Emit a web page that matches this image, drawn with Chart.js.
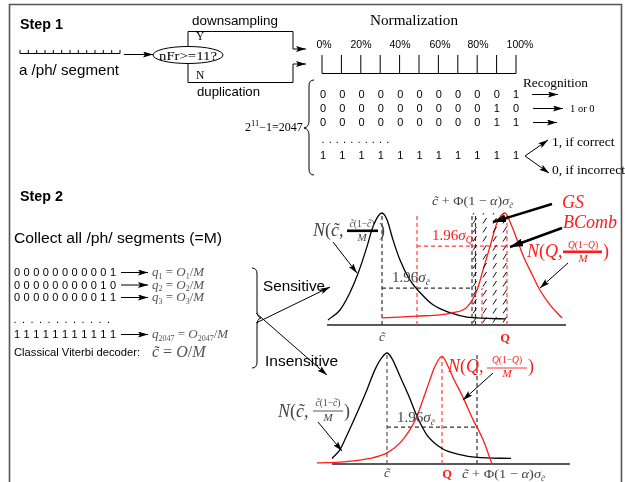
<!DOCTYPE html>
<html>
<head>
<meta charset="utf-8">
<script src="https://cdn.jsdelivr.net/npm/chart.js@4.4.0/dist/chart.umd.min.js"></script>
<style>
html, body { margin: 0; padding: 0; background: #fff; }
#wrap { position: relative; width: 625px; height: 482px; overflow: hidden; }
#plot, #art { position: absolute; left: 0; top: 0; }
.sans { font-family: "Liberation Sans", Arial, sans-serif; }
.serif { font-family: "Liberation Serif", "Times New Roman", serif; }
.m { font-family: "Liberation Serif", "Times New Roman", serif; font-style: italic; }
.up { font-style: normal; }
</style>
</head>
<body>
<div id="wrap">
<canvas id="plot" width="625" height="482"></canvas>
<svg id="art" width="625" height="482" xmlns="http://www.w3.org/2000/svg">
<defs>
  <marker id="ah" viewBox="0 0 10 6" refX="10" refY="3" markerWidth="10" markerHeight="6" markerUnits="userSpaceOnUse" orient="auto"><path d="M0,0 L10,3 L0,6 L2,3 z" fill="#000"/></marker>
  <marker id="ahb" viewBox="0 0 13 8" refX="13" refY="4" markerWidth="13" markerHeight="8" markerUnits="userSpaceOnUse" orient="auto"><path d="M0,0 L13,4 L0,8 z" fill="#000"/></marker>
</defs>
<path d="M9.5,482 V4.5 H621.5 V482" fill="none" stroke="#555" stroke-width="1.6"/>

<!-- step 1 -->
<g fill="none" stroke="#000" stroke-width="1">
  <path id="ruler" d=""/>
  <line x1="124" y1="54.5" x2="153" y2="54.5" marker-end="url(#ah)"/>
  <ellipse cx="188" cy="55" rx="35" ry="8.5"/>
  <path d="M188,46.5 V31.5 H293 V49 H306" marker-end="url(#ah)"/>
  <path d="M188,63.5 V82.5 H293 V64 H306" marker-end="url(#ah)"/>
  <path id="bins" d=""/>
  <path d="M314,80 Q309,80 309,86 V121 Q309,127 304,128 Q309,129 309,135 V169 Q309,175 314,175"/>
  <line x1="532" y1="94.5" x2="558" y2="94.5" marker-end="url(#ah)"/>
  <line x1="533" y1="108.5" x2="563" y2="108.5" marker-end="url(#ah)"/>
  <line x1="533" y1="122.5" x2="557" y2="122.5" marker-end="url(#ah)"/>
  <line x1="525" y1="156" x2="548" y2="140" marker-end="url(#ah)"/>
  <line x1="525" y1="156" x2="549" y2="173" marker-end="url(#ah)"/>
</g>
<text class="sans" x="20" y="29" font-size="14.3" font-weight="bold">Step 1</text>
<text class="sans" x="19" y="75" font-size="15" textLength="100" lengthAdjust="spacingAndGlyphs">a /ph/ segment</text>
<text class="sans" x="192" y="25" font-size="13.5" textLength="86" lengthAdjust="spacingAndGlyphs">downsampling</text>
<text class="sans" x="197" y="96" font-size="13.3" textLength="63" lengthAdjust="spacingAndGlyphs">duplication</text>
<text class="serif" x="188" y="59.5" font-size="13" text-anchor="middle" textLength="58" lengthAdjust="spacingAndGlyphs">nFr&gt;=11?</text>
<text class="serif" x="196" y="40" font-size="11.5">Y</text>
<text class="serif" x="196" y="79" font-size="11.5">N</text>
<text class="serif" x="370" y="25" font-size="15" textLength="88" lengthAdjust="spacingAndGlyphs">Normalization</text>
<g id="pct" class="sans" font-size="10.5" text-anchor="middle"></g>
<g id="bits1" class="sans" font-size="11" text-anchor="middle"></g>
<text class="serif" x="523" y="87" font-size="13.5" textLength="65" lengthAdjust="spacingAndGlyphs">Recognition</text>
<text class="serif" x="570" y="111.5" font-size="10.5">1 or 0</text>
<text class="serif" x="552" y="146" font-size="13.5">1, if correct</text>
<text class="serif" x="552" y="173.5" font-size="13.5">0, if incorrect</text>
<text class="serif" x="245" y="131" font-size="12">2<tspan font-size="8.5" dy="-5">11</tspan><tspan dy="5">−1=2047</tspan></text>

<!-- step 2 -->
<text class="sans" x="20" y="201" font-size="14.3" font-weight="bold">Step 2</text>
<text class="sans" x="14" y="243" font-size="15.5" textLength="208" lengthAdjust="spacingAndGlyphs">Collect all /ph/ segments (=M)</text>
<g id="bits2" class="sans" font-size="11" text-anchor="middle"></g>
<g fill="none" stroke="#000" stroke-width="1">
  <line x1="121" y1="272.5" x2="148" y2="272.5" marker-end="url(#ah)"/>
  <line x1="121" y1="285" x2="148" y2="285" marker-end="url(#ah)"/>
  <line x1="121" y1="297.5" x2="148" y2="297.5" marker-end="url(#ah)"/>
  <line x1="121" y1="334.5" x2="148" y2="334.5" marker-end="url(#ah)"/>
  <path d="M252,268 Q257,268 257,274 V311 Q257,317 261,318 Q257,319 257,325 V362 Q257,368 252,368"/>
  <line x1="256" y1="323" x2="330" y2="287" marker-end="url(#ah)"/>
  <line x1="256" y1="313" x2="327" y2="375" marker-end="url(#ah)"/>
</g>
<g class="m" font-size="13" fill="#555">
  <text x="152" y="276">q<tspan font-size="8" dy="2.5" class="up">1</tspan><tspan dy="-2.5" class="up"> = </tspan>O<tspan font-size="8" dy="2.5" class="up">1</tspan><tspan dy="-2.5" class="up">/</tspan>M</text>
  <text x="152" y="288.5">q<tspan font-size="8" dy="2.5" class="up">2</tspan><tspan dy="-2.5" class="up"> = </tspan>O<tspan font-size="8" dy="2.5" class="up">2</tspan><tspan dy="-2.5" class="up">/</tspan>M</text>
  <text x="152" y="301">q<tspan font-size="8" dy="2.5" class="up">3</tspan><tspan dy="-2.5" class="up"> = </tspan>O<tspan font-size="8" dy="2.5" class="up">3</tspan><tspan dy="-2.5" class="up">/</tspan>M</text>
  <text x="152" y="338">q<tspan font-size="8" dy="2.5" class="up">2047</tspan><tspan dy="-2.5" class="up"> = </tspan>O<tspan font-size="8" dy="2.5" class="up">2047</tspan><tspan dy="-2.5" class="up">/</tspan>M</text>
  <text x="152" y="357" font-size="16">c̃<tspan class="up"> = </tspan>O<tspan class="up">/</tspan>M</text>
</g>
<text class="sans" x="14" y="356" font-size="11.2">Classical Viterbi decoder:</text>
<text class="sans" x="263" y="291" font-size="15.3">Sensitive</text>
<text class="sans" x="265" y="366" font-size="15.5">Insensitive</text>

<!-- sensitive panel labels -->
<g fill="#444" class="m">
  <text x="432" y="205" font-size="13" textLength="81" lengthAdjust="spacingAndGlyphs">c̃<tspan class="up"> + Φ(1 − </tspan>α<tspan class="up">)</tspan>σ<tspan font-size="8" dy="2.5">c̃</tspan></text>
  <text x="313" y="235.5" font-size="18">N<tspan class="up">(</tspan>c̃,</text>
  <text x="362" y="227" font-size="9.5" text-anchor="middle">c̃<tspan class="up">(1−</tspan>c̃<tspan class="up">)</tspan></text>
  <text x="362" y="241" font-size="11" text-anchor="middle">M</text>
  <text x="379" y="235.5" font-size="18" class="up">)</text>
  <text x="392" y="282" font-size="15" class="up">1.96<tspan class="m">σ</tspan><tspan font-size="9" dy="3" class="m">c̃</tspan></text>
  <text x="382" y="341" font-size="13" text-anchor="middle">c̃</text>
</g>
<rect x="347" y="229.5" width="31" height="2.6" fill="#000"/>
<g fill="#ff1a1a" class="m">
  <text x="432" y="240" font-size="15" class="up">1.96<tspan class="m">σ</tspan><tspan font-size="10" dy="3" class="m">Q</tspan></text>
  <text x="562" y="208" font-size="18">GS</text>
  <text x="563" y="228" font-size="18">BComb</text>
  <text x="527" y="257" font-size="18">N<tspan class="up">(</tspan>Q<tspan class="up">,</tspan></text>
  <text x="583" y="247.5" font-size="9.5" text-anchor="middle">Q<tspan class="up">(1−</tspan>Q<tspan class="up">)</tspan></text>
  <text x="583" y="262" font-size="11" text-anchor="middle">M</text>
  <text x="603" y="257" font-size="18" class="up">)</text>
  <text x="505" y="342" font-size="12.5" font-weight="bold" class="serif up" text-anchor="middle">Q</text>
</g>
<rect x="563" y="250.5" width="39" height="2.6" fill="#ff1a1a"/>
<g fill="none" stroke="#000">
  <line x1="552" y1="204" x2="493" y2="222" stroke-width="2.4" marker-end="url(#ahb)"/>
  <line x1="562" y1="228" x2="510" y2="247" stroke-width="2.4" marker-end="url(#ahb)"/>
  <line x1="568" y1="263" x2="540" y2="288" stroke-width="1" marker-end="url(#ah)"/>
  <line x1="333" y1="242" x2="357" y2="273" stroke-width="1" marker-end="url(#ah)"/>
</g>

<!-- insensitive panel labels -->
<g fill="#444" class="m">
  <text x="278" y="417" font-size="18">N<tspan class="up">(</tspan>c̃,</text>
  <text x="328" y="406" font-size="9.5" text-anchor="middle">c̃<tspan class="up">(1−</tspan>c̃<tspan class="up">)</tspan></text>
  <text x="328" y="421" font-size="11" text-anchor="middle">M</text>
  <text x="344" y="417" font-size="18" class="up">)</text>
  <text x="397" y="422" font-size="15" class="up">1.96<tspan class="m">σ</tspan><tspan font-size="9" dy="3" class="m">c̃</tspan></text>
  <text x="387" y="477" font-size="13" text-anchor="middle">c̃</text>
  <text x="462" y="478" font-size="13" textLength="83" lengthAdjust="spacingAndGlyphs">c̃<tspan class="up"> + Φ(1 − </tspan>α<tspan class="up">)</tspan>σ<tspan font-size="8" dy="2.5">c̃</tspan></text>
</g>
<line x1="313" y1="411" x2="343" y2="411" stroke="#444" stroke-width="0.9"/>
<g fill="#ff1a1a" class="m">
  <text x="448" y="372" font-size="18">N<tspan class="up">(</tspan>Q<tspan class="up">,</tspan></text>
  <text x="507" y="363" font-size="9.5" text-anchor="middle">Q<tspan class="up">(1−</tspan>Q<tspan class="up">)</tspan></text>
  <text x="507" y="377" font-size="11" text-anchor="middle">M</text>
  <text x="528" y="372" font-size="18" class="up">)</text>
  <text x="447" y="478" font-size="12.5" font-weight="bold" class="serif up" text-anchor="middle">Q</text>
</g>
<line x1="487" y1="368" x2="527" y2="368" stroke="#ff1a1a" stroke-width="0.9"/>
<g fill="none" stroke="#000" stroke-width="1">
  <line x1="493" y1="373" x2="463" y2="400" marker-end="url(#ah)"/>
  <line x1="318" y1="422" x2="342" y2="451" marker-end="url(#ah)"/>
</g>
</svg>
</div>

<script>
// ---- Step 1 texts ----
var pctLabels = ['0%', '20%', '40%', '60%', '80%', '100%'];
var pctCenters = [324, 361, 400, 440, 478, 520];
var step1Rows = ['00000000001', '00000000010', '00000000011', '11111111111'];
var step2Rows = ['00000000001', '00000000010', '00000000011', '11111111111'];

// ---- Sensitive panel (x: position, y: density relative to peak) ----
var sensBlackX = [0.1, 1.3, 2.3, 3.1, 4.0, 4.6, 5.5, 6.0, 6.6, 7.3, 8.3, 9.3, 10.6, 12.3, 14.0, 16.0, 17.8];
var sensBlackY = [0.045, 0.134, 0.29, 0.46, 0.70, 0.88, 1.0, 0.94, 0.76, 0.58, 0.40, 0.29, 0.18, 0.11, 0.07, 0.06, 0.054];
var sensRedX = [5.5, 9.0, 11.3, 12.6, 14.0, 15.0, 15.6, 16.3, 17.0, 17.8, 18.4, 19.1, 19.7, 20.3, 21.3, 22.3, 23.5];
var sensRedY = [0.063, 0.08, 0.09, 0.11, 0.16, 0.31, 0.49, 0.70, 0.91, 1.0, 0.90, 0.74, 0.60, 0.49, 0.31, 0.18, 0.063];
var sensCbar = 5.5, sensLow = 9.0, sensCrit = 14.5, sensQ = 18.0;
var sensBlackLevel = 0.33, sensRedLevel = 0.705;

// ---- Insensitive panel ----
var insBlackX = [0.0, 0.8, 1.6, 2.5, 3.5, 4.3, 5.0, 5.5, 6.0, 6.8, 7.6, 8.5, 9.5, 11.0, 12.8, 14.5, 17.9];
var insBlackY = [0.05, 0.13, 0.28, 0.46, 0.67, 0.85, 0.96, 1.0, 0.95, 0.79, 0.63, 0.43, 0.26, 0.14, 0.085, 0.06, 0.05];
var insRedX = [-1.5, 1.1, 3.8, 5.5, 6.8, 7.8, 8.5, 9.1, 9.8, 10.3, 11.0, 11.6, 12.1, 13.1, 14.1, 15.1, 15.8, 16.0];
var insRedY = [0.01, 0.02, 0.05, 0.10, 0.19, 0.31, 0.43, 0.58, 0.76, 0.88, 0.97, 0.88, 0.78, 0.60, 0.40, 0.22, 0.05, 0.0];
var insCbar = 5.5, insQ = 11.0, insCrit = 14.5;
var insBlackLevel = 0.333;

// ---- static drawing of step 1 ----
var svgNS = 'http://www.w3.org/2000/svg';
function addText(parent, x, y, s) {
    var t = document.createElementNS(svgNS, 'text');
    t.setAttribute('x', x); t.setAttribute('y', y); t.textContent = s;
    document.getElementById(parent).appendChild(t);
}
var d = 'M20,53.5 H120';
for (var i = 0; i <= 12; i++) { d += ' M' + (20 + i * 100 / 12).toFixed(1) + ',53.5 V50'; }
document.getElementById('ruler').setAttribute('d', d);
d = 'M322,73.5 H516';
for (i = 0; i <= 10; i++) { d += ' M' + (322 + i * 19.4).toFixed(1) + ',55 V73.5'; }
document.getElementById('bins').setAttribute('d', d);
pctLabels.forEach(function (p, k) { addText('pct', pctCenters[k], 48, p); });

function bitRow(parent, s, x0, step, y) {
    addText(parent, s.split('').map(function (c, k) { return (x0 + k * step).toFixed(1); }).join(' '), y, s);
}
var rowY1 = [98, 112, 126, 159];
step1Rows.forEach(function (r, k) { bitRow('bits1', r, 323, 19.3, rowY1[k]); });
bitRow('bits1', '..........', 323, 7.2, 143);
var rowY2 = [276, 288.5, 301, 338];
step2Rows.forEach(function (r, k) { bitRow('bits2', r, 17, 9.6, rowY2[k]); });
bitRow('bits2', '............', 15, 8.5, 323);

// ---- Chart.js curves ----
var ctx = document.getElementById('plot').getContext('2d');

function zip(xs, ys) {
    return xs.map(function (x, k) { return { x: x, y: ys[k] }; });
}
// scale range so that value v0 lands at pixel p0 and v1 at p1
function span(v0, p0, v1, p1, size, flip) {
    var k = flip ? (p0 - p1) / (v1 - v0) : (p1 - p0) / (v1 - v0);
    var min = flip ? v0 - (size - p0) / k : v0 - p0 / k;
    return { min: min, max: min + size / k };
}
function hatch() {
    var c = document.createElement('canvas');
    c.width = 10; c.height = 9;
    var g = c.getContext('2d');
    g.strokeStyle = '#111'; g.lineWidth = 1;
    g.beginPath(); g.moveTo(3, 7.5); g.lineTo(6.5, 2); g.stroke();
    return ctx.createPattern(c, 'repeat');
}
function curve(pts, color, xid, yid) {
    return { data: pts, borderColor: color, borderWidth: 1.3, showLine: true, pointRadius: 0,
             cubicInterpolationMode: 'monotone', xAxisID: xid, yAxisID: yid, fill: false };
}
function dash(pts, color, xid, yid) {
    return { data: pts, borderColor: color, borderWidth: 1.2, borderDash: [4, 3], showLine: true,
             pointRadius: 0, xAxisID: xid, yAxisID: yid, fill: false };
}
var RED = '#ff1a1a', RED_D = '#ff4040', BLK = '#000', BLK_D = '#333';

var xa = span(0, 327, 1, 337, 625, false), ya = span(0, 325, 1, 213, 482, true);
var xb = span(0, 332, 1, 342, 625, false), yb = span(0, 464, 1, 353, 482, true);

var datasets = [
    // sensitive
    { data: zip([sensCrit, sensCrit, sensQ, sensQ], [0, 1, 1, 0]), showLine: true, pointRadius: 0, borderWidth: 0,
      backgroundColor: hatch(), fill: 'origin', xAxisID: 'xa', yAxisID: 'ya' },
    curve(zip(sensRedX, sensRedY), RED, 'xa', 'ya'),
    curve(zip(sensBlackX, sensBlackY), BLK, 'xa', 'ya'),
    dash(zip([sensCbar, sensCbar], [0, 1]), BLK_D, 'xa', 'ya'),
    dash(zip([sensCrit, sensCrit], [0, 1]), BLK_D, 'xa', 'ya'),
    dash(zip([sensCrit + 0.35, sensCrit + 0.35], [0, 1]), BLK_D, 'xa', 'ya'),
    dash(zip([sensLow, sensLow], [0, 1]), RED_D, 'xa', 'ya'),
    dash(zip([sensQ, sensQ], [0, 1]), RED_D, 'xa', 'ya'),
    dash(zip([sensCrit + 1.0, sensCrit + 1.0], [0, sensBlackLevel]), RED_D, 'xa', 'ya'),
    dash(zip([sensCbar, sensCrit], [sensBlackLevel, sensBlackLevel]), BLK_D, 'xa', 'ya'),
    dash(zip([sensLow, sensQ], [sensRedLevel, sensRedLevel]), RED_D, 'xa', 'ya'),
    { data: zip([0, 23.9], [0, 0]), borderColor: '#222', borderWidth: 1.6, showLine: true, pointRadius: 0, xAxisID: 'xa', yAxisID: 'ya' },
    // insensitive
    curve(zip(insRedX, insRedY), RED, 'xb', 'yb'),
    curve(zip(insBlackX, insBlackY), BLK, 'xb', 'yb'),
    dash(zip([insCbar, insCbar], [0, 1]), '#555', 'xb', 'yb'),
    dash(zip([insCrit, insCrit], [0, 1]), BLK_D, 'xb', 'yb'),
    dash(zip([insQ, insQ], [0, 0.97]), RED_D, 'xb', 'yb'),
    dash(zip([insCbar, insCrit], [insBlackLevel, insBlackLevel]), BLK_D, 'xb', 'yb'),
    { data: zip([0, 23.8], [0, 0]), borderColor: '#222', borderWidth: 1.6, showLine: true, pointRadius: 0, xAxisID: 'xb', yAxisID: 'yb' }
];

var chart = new Chart(ctx, {
    type: 'scatter',
    data: { datasets: datasets },
    options: {
        responsive: false,
        animation: false,
        devicePixelRatio: 1,
        layout: { padding: 0 },
        plugins: { legend: { display: false }, tooltip: { enabled: false } },
        scales: {
            xa: { type: 'linear', axis: 'x', display: false, min: xa.min, max: xa.max },
            ya: { type: 'linear', axis: 'y', display: false, min: ya.min, max: ya.max },
            xb: { type: 'linear', axis: 'x', display: false, min: xb.min, max: xb.max },
            yb: { type: 'linear', axis: 'y', display: false, min: yb.min, max: yb.max }
        }
    }
});
</script>
</body>
</html>
